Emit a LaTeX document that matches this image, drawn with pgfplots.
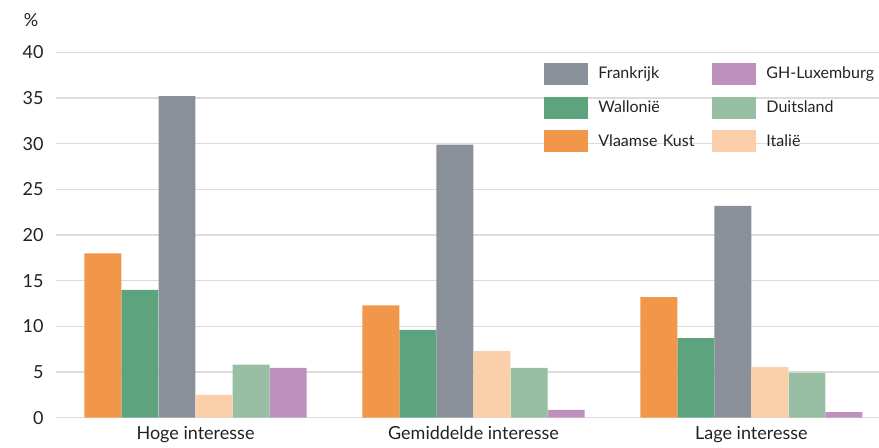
\documentclass[border=0pt]{standalone}
\usepackage{pgfplots}
\pgfplotsset{compat=1.18}
\usepackage{fontspec}
\setmainfont{Lato}

\definecolor{cKust}{HTML}{F29649}
\definecolor{cWal}{HTML}{5DA37D}
\definecolor{cFra}{HTML}{8A9099}
\definecolor{cIta}{HTML}{FBCFA9}
\definecolor{cDui}{HTML}{98BFA3}
\definecolor{cLux}{HTML}{BE90BE}
\definecolor{cGrid}{HTML}{DCDCDC}
\definecolor{cText}{HTML}{222222}

\begin{document}
\fontsize{9}{11}\selectfont
\begin{tikzpicture}
\begin{axis}[
  at={(0,0)}, anchor=south west,
  scale only axis,
  width=411.5pt, height=182.7pt,
  xmin=-0.502, xmax=2.459,
  ymin=0, ymax=40,
  ytick={0,5,...,40},
  xtick={0,1,2},
  xticklabels={Hoge interesse, Gemiddelde interesse, Lage interesse},
  axis line style={draw=none},
  major tick length=0pt,
  ymajorgrids,
  grid style={cGrid, line width=0.75pt},
  tick label style={text=cText},
  yticklabel style={xshift=-3pt},
  xticklabel style={yshift=-1pt},
  /pgf/number format/assume math mode=true,
  ybar, bar width=0.133,
  every axis plot/.append style={draw=none},
  legend columns=3,
  transpose legend,
  legend cell align=left,
  legend style={draw=none, fill=none, inner sep=0pt,
    at={(0.593,0.972)}, anchor=north west,
    row sep=5.8pt,
    font=\fontsize{8}{10}\selectfont,
    nodes={inner sep=0pt, text width=57pt, text=cText},
    /tikz/every odd column/.append style={column sep=5pt}},
  legend image code/.code={\fill[#1] (0pt,-5.3pt) rectangle (22pt,5.7pt);},
]
% Frankrijk
\addplot[fill=cFra, bar shift=-0.0667] coordinates {(0,35.2) (1,29.9) (2,23.2)};
% Wallonie
\addplot[fill=cWal, bar shift=-0.2] coordinates {(0,14.0) (1,9.6) (2,8.7)};
% Vlaamse Kust
\addplot[fill=cKust, bar shift=-0.333] coordinates {(0,18.0) (1,12.3) (2,13.2)};
% GH-Luxemburg
\addplot[fill=cLux, bar shift=0.333] coordinates {(0,5.45) (1,0.85) (2,0.6)};
% Duitsland
\addplot[fill=cDui, bar shift=0.2] coordinates {(0,5.8) (1,5.45) (2,4.9)};
% Italie
\addplot[fill=cIta, bar shift=0.0667] coordinates {(0,2.5) (1,7.3) (2,5.55)};
\legend{Frankrijk, Wallonië, Vlaamse Kust, \mbox{GH-Luxemburg}, Duitsland, Italië}
\end{axis}
\node[text=cText] at ([xshift=-12.5pt,yshift=16pt]current axis.north west) {\%};
\pgfresetboundingbox
\useasboundingbox (-28pt,-15.15pt) rectangle (411.5pt,208.85pt);
\end{tikzpicture}
\end{document}
